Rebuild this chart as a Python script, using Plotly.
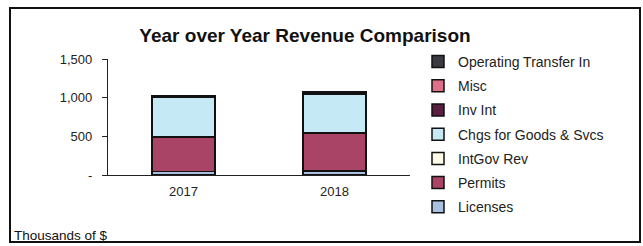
import plotly.graph_objects as go

years = ["2017", "2018"]
series_names = ["Licenses", "Permits", "IntGov Rev", "Chgs for Goods & Svcs",
                "Inv Int", "Misc", "Operating Transfer In"]
licenses = [45, 50]
permits = [445, 490]
intgov_rev = [4, 4]
chgs_goods_svcs = [505, 505]
inv_int = [5, 5]
misc = [4, 4]
operating_transfer_in = [20, 20]
colors = ["#a9c0e0", "#a94466", "#fffbe6", "#c5eaf5", "#5a1f40", "#e0708a", "#3a3a40"]
tick_vals = [0, 500, 1000, 1500]
tick_text = ["-", "500", "1,000", "1,500"]

values = [licenses, permits, intgov_rev, chgs_goods_svcs, inv_int, misc, operating_transfer_in]

fig = go.Figure()
for i, (name, vals, col) in enumerate(zip(series_names, values, colors)):
    fig.add_trace(go.Bar(
        x=years, y=vals, name=name, legendgroup=name, legendrank=100 - i,
        marker=dict(color=col, line=dict(color="#111111", width=1.5)),
        width=0.42,
    ))

W, H = 643, 246
L, R, T, B = 108, 233, 59, 71
pw, ph = W - L - R, H - T - B

def px_x(p):
    return (p - L) / pw

def px_y(p):
    return (H - B - p) / ph

fig.update_layout(
    width=W, height=H,
    margin=dict(l=L, r=R, t=T, b=B),
    barmode="stack",
    paper_bgcolor="white", plot_bgcolor="white",
    font=dict(family="Liberation Sans, Arial, sans-serif", size=13, color="#222222"),
    title=dict(text="<b>Year over Year Revenue Comparison</b>",
               x=305 / W, xanchor="center", y=1 - 35 / H, yanchor="middle",
               font=dict(size=19, color="#111111")),
    showlegend=True,
    legend=dict(traceorder="grouped", tracegroupgap=3,
                x=px_x(418), xanchor="left", y=px_y(46), yanchor="top",
                font=dict(size=14, color="#222222"), maxheight=1,
                itemwidth=30, bgcolor="rgba(0,0,0,0)"),
    xaxis=dict(showline=True, linecolor="#222222", linewidth=1.2,
               ticks="", showgrid=False, tickfont=dict(size=13),
               ticklabelstandoff=4, range=[-0.5, 1.5]),
    yaxis=dict(range=[0, 1500], tickvals=tick_vals, ticktext=tick_text,
               showline=True, linecolor="#222222", linewidth=1.2,
               ticks="outside", ticklen=5, tickcolor="#222222",
               ticklabelstandoff=7,
               showgrid=False, zeroline=False, tickfont=dict(size=13)),
    shapes=[dict(type="rect", xref="paper", yref="paper",
                 x0=px_x(10), x1=px_x(640), y0=px_y(242), y1=px_y(8),
                 line=dict(color="#111111", width=2), fillcolor="rgba(0,0,0,0)")],
    annotations=[dict(text="Thousands of $", xref="paper", yref="paper",
                      x=px_x(12), y=px_y(235), xanchor="left", yanchor="middle",
                      showarrow=False, font=dict(size=13.5, color="#111111"))],
)

fig.write_html("out.html", config={"displayModeBar": False},
               post_script="document.body.style.margin='0';document.body.style.overflow='hidden';")
